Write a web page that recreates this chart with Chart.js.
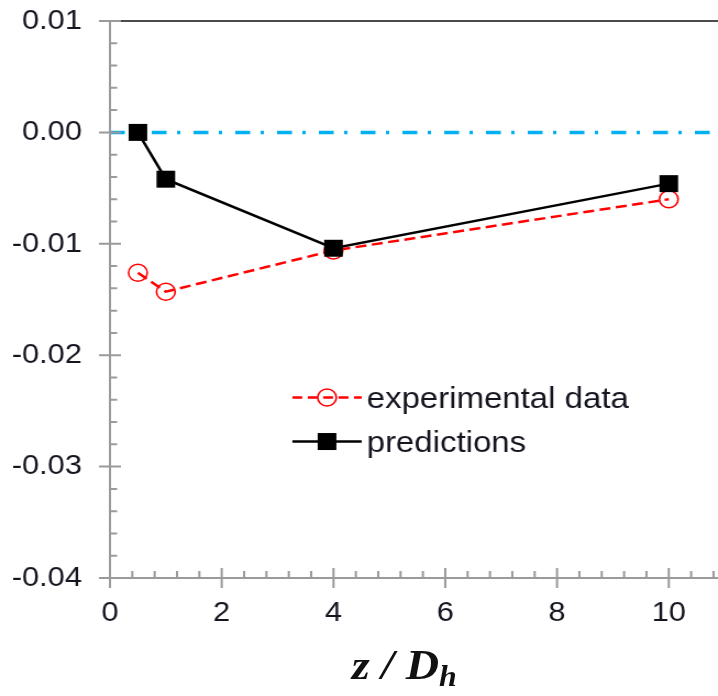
<!DOCTYPE html>
<html>
<head>
<meta charset="utf-8">
<script src="https://cdn.jsdelivr.net/npm/chart.js@4/dist/chart.umd.min.js"></script>
<style>
  html,body{margin:0;padding:0;background:#fff;overflow:hidden;width:718px;height:696px;}
  #wrap{position:absolute;left:0;top:0;width:653px;height:696px;transform:scaleX(1.0995);transform-origin:0 0;}
  #c{position:absolute;left:0;top:0;}
  #xtitle{position:absolute;left:320px;top:644px;font-family:"Liberation Serif","Times New Roman",serif;font-weight:bold;font-style:italic;font-size:42px;line-height:42px;color:#111;white-space:nowrap;}
  #xtitle span{font-size:29px;position:relative;top:7px;}
</style>
</head>
<body>
<div id="wrap">
  <canvas id="c" width="653" height="696"></canvas>
  <div id="xtitle">z / D<span>h</span></div>
</div>
<script>
// ---- data ----
const zValues = [0.5, 1, 4, 10];
const experimentalData = [-0.0126, -0.0143, -0.0106, -0.0060];
const predictions = [0.0, -0.0042, -0.0104, -0.0046];
const seriesNames = ["experimental data", "predictions"];
const xTicks = [0, 2, 4, 6, 8, 10];
const yTicks = [0.01, 0.00, -0.01, -0.02, -0.03, -0.04];
const yTickLabels = ["0.01", "0.00", "-0.01", "-0.02", "-0.03", "-0.04"];
const refLineY = [0];
const xMin = 0, xMax = 10.88, yMin = -0.04, yMax = 0.01;
const xMinorStep = 0.4, yMinorStep = 0.002;

const toPts = (xs, ys) => xs.map((x, i) => ({x: x, y: ys[i]}));

const TICK_COL = '#9a9a9a';

const deco = {
  id: 'deco',
  beforeDatasetsDraw(chart) {
    const {ctx, chartArea: a, scales: {x, y}} = chart;
    ctx.save();
    const yt = y.getPixelForValue(yMax);
    ctx.strokeStyle = '#111';
    ctx.lineWidth = 1.6;
    ctx.beginPath(); ctx.moveTo(a.left, yt); ctx.lineTo(a.right, yt); ctx.stroke();
    const y0 = y.getPixelForValue(refLineY[0]);
    ctx.strokeStyle = '#00b0f0';
    ctx.lineWidth = 3.5;
    ctx.setLineDash([13.5, 9.5, 3, 12]);
    ctx.beginPath(); ctx.moveTo(a.left, y0); ctx.lineTo(a.right, y0); ctx.stroke();
    ctx.restore();
  },
  afterDraw(chart) {
    const {ctx, chartArea: a, scales: {x, y}} = chart;
    ctx.save();
    ctx.strokeStyle = TICK_COL;
    ctx.lineWidth = 2;
    ctx.beginPath();
    ctx.moveTo(a.left, y.getPixelForValue(yMax));
    ctx.lineTo(a.left, a.bottom);
    ctx.lineTo(a.right, a.bottom);
    ctx.stroke();
    ctx.beginPath();
    yTicks.forEach(v => {
      const p = y.getPixelForValue(v);
      ctx.moveTo(a.left - 10, p); ctx.lineTo(a.left + 10, p);
    });
    for (let v = yMin; v < yMax - 1e-9; v += yMinorStep) {
      if (yTicks.some(t => Math.abs(t - v) < 1e-9)) continue;
      const p = y.getPixelForValue(v);
      ctx.moveTo(a.left, p); ctx.lineTo(a.left + 6.5, p);
    }
    xTicks.forEach(v => {
      const p = x.getPixelForValue(v);
      ctx.moveTo(p, a.bottom - 10); ctx.lineTo(p, a.bottom + 10);
    });
    for (let v = xMin; v <= xMax + 1e-9; v += xMinorStep) {
      if (xTicks.some(t => Math.abs(t - v) < 1e-9)) continue;
      const p = x.getPixelForValue(v);
      ctx.moveTo(p, a.bottom); ctx.lineTo(p, a.bottom - 7);
    }
    ctx.stroke();

    // legend inside plot
    const w = a.right - a.left, h = a.bottom - a.top;
    const lx0 = a.left + 0.300 * w;
    const lx1 = a.left + 0.414 * w;
    const mx = (lx0 + lx1) / 2;
    const tx = lx1 + 4.5;
    const rows = [a.top + 0.676 * h, a.top + 0.755 * h];
    ctx.font = '30px "Liberation Sans", Arial, sans-serif';
    ctx.textBaseline = 'alphabetic';
    ctx.textAlign = 'left';
    let ly = rows[0];
    ctx.strokeStyle = '#ff0000'; ctx.lineWidth = 2.5; ctx.setLineDash([9, 5]);
    ctx.beginPath(); ctx.moveTo(lx0, ly); ctx.lineTo(lx1, ly); ctx.stroke();
    ctx.setLineDash([]);
    ctx.lineWidth = 1.6;
    ctx.beginPath(); ctx.arc(mx, ly, 8.5, 0, Math.PI * 2); ctx.stroke();
    ctx.fillStyle = '#151520';
    ctx.fillText(seriesNames[0], tx, ly + 10);
    ly = rows[1];
    ctx.strokeStyle = '#000'; ctx.lineWidth = 2.5;
    ctx.beginPath(); ctx.moveTo(lx0, ly); ctx.lineTo(lx1, ly); ctx.stroke();
    ctx.fillStyle = '#000';
    ctx.fillRect(mx - 8.5, ly - 8.5, 17, 17);
    ctx.fillStyle = '#151520';
    ctx.fillText(seriesNames[1], tx, ly + 10);
    ctx.restore();
  }
};

const tickFont = {family: '"Liberation Sans", Arial, sans-serif', size: 28};

new Chart(document.getElementById('c'), {
  type: 'line',
  data: {
    datasets: [
      {
        label: seriesNames[1],
        data: toPts(zValues, predictions),
        order: 0,
        borderColor: '#000',
        borderWidth: 2.5,
        pointStyle: 'rect',
        pointRadius: 12,
        pointBackgroundColor: '#000',
        pointBorderColor: '#000',
        pointBorderWidth: 0,
        tension: 0
      },
      {
        label: seriesNames[0],
        data: toPts(zValues, experimentalData),
        order: 1,
        borderColor: '#ff0000',
        borderWidth: 2.5,
        borderDash: [10, 5],
        pointStyle: 'circle',
        pointRadius: 8.5,
        pointBackgroundColor: 'rgba(0,0,0,0)',
        pointBorderColor: '#ff0000',
        pointBorderWidth: 1.6,
        tension: 0
      }
    ]
  },
  options: {
    responsive: false,
    animation: false,
    devicePixelRatio: 1,
    layout: {autoPadding: false, padding: {top: 21, right: 0, bottom: 0, left: 0}},
    plugins: {legend: {display: false}, tooltip: {enabled: false}},
    scales: {
      x: {
        type: 'linear',
        min: xMin, max: xMax,
        grid: {display: false, drawTicks: false, tickLength: 0},
        border: {display: false},
        afterBuildTicks: s => { s.ticks = xTicks.map(v => ({value: v})); },
        afterFit: s => { s.height = 118; s.paddingLeft = 0; s.paddingRight = 0; s.paddingTop = 0; s.paddingBottom = 0; },
        ticks: {font: tickFont, color: '#151520', padding: 18, maxRotation: 0, autoSkip: false,
                callback: v => String(v)}
      },
      y: {
        type: 'linear',
        min: yMin, max: yMax,
        grid: {display: false, drawTicks: false, tickLength: 0},
        border: {display: false},
        afterBuildTicks: s => { s.ticks = yTicks.map(v => ({value: v})); },
        afterFit: s => { s.width = 100; s.paddingLeft = 0; s.paddingRight = 0; s.paddingTop = 0; s.paddingBottom = 0; },
        ticks: {font: tickFont, color: '#151520', padding: 25.5, autoSkip: false,
                callback: (v) => { const i = yTicks.findIndex(t => Math.abs(t - v) < 1e-9); return i >= 0 ? yTickLabels[i] : ''; }}
      }
    }
  },
  plugins: [deco]
});
</script>
</body>
</html>
